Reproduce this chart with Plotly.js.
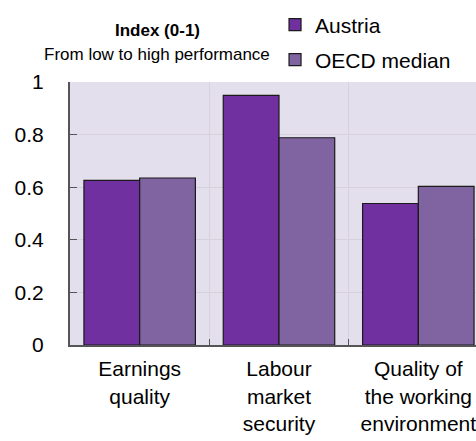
<!DOCTYPE html>
<html><head><meta charset="utf-8">
<script src="https://cdn.plot.ly/plotly-3.0.1.min.js"></script>
<style>html,body{margin:0;padding:0;background:#fff}#chart{width:476px;height:441px}</style>
</head><body><div id="chart"></div>
<script>
const categories = ["Earnings<br>quality", "Labour<br>market<br>security", "Quality of<br>the working<br>environment"];
const austria = [0.626, 0.949, 0.538];
const oecdMedian = [0.635, 0.788, 0.603];
const yTicks = [0, 0.2, 0.4, 0.6, 0.8, 1];
const yTickText = ["0", "0.2", "0.4", "0.6", "0.8", "1"];

const font = "Liberation Sans, Arial, sans-serif";
const traces = [
  {type: "bar", name: "Austria", x: categories, y: austria, legend: "legend",
   marker: {color: "#7030A0", line: {color: "#1a1a1a", width: 1.2}}},
  {type: "bar", name: "OECD median", x: categories, y: oecdMedian, legend: "legend2",
   marker: {color: "#8064A2", line: {color: "#1a1a1a", width: 1.2}}}
];
const legFont = {family: font, size: 21, color: "#000"};
const layout = {
  width: 476, height: 441,
  margin: {l: 70, r: 0, t: 82, b: 96, pad: 0},
  paper_bgcolor: "#ffffff", plot_bgcolor: "#E4DFEC",
  barmode: "group", bargap: 0.2, bargroupgap: 0,
  font: {family: font, size: 21, color: "#000"},
  showlegend: true,
  legend: {x: 0.505, y: (345-25)/263, xanchor: "left", yanchor: "middle", bgcolor: "rgba(0,0,0,0)",
           font: legFont, itemwidth: 30, borderwidth: 0},
  legend2: {x: 0.505, y: (345-60)/263, xanchor: "left", yanchor: "middle", bgcolor: "rgba(0,0,0,0)",
           font: legFont, itemwidth: 30, borderwidth: 0},
  xaxis: {type: "category", range: [-0.5, 2.414], tickson: "boundaries",
          showgrid: true, gridcolor: "#D6D1DD", gridwidth: 1,
          ticks: "inside", ticklen: 6, tickcolor: "#555",
          showline: true, linecolor: "#555", linewidth: 2,
          tickfont: {family: font, size: 21}, ticklabelstandoff: 4, fixedrange: true},
  yaxis: {range: [0, 1], tickvals: yTicks, ticktext: yTickText,
          showgrid: true, gridcolor: "#D6D1DD", gridwidth: 1, zeroline: false,
          ticks: "inside", ticklen: 7, tickcolor: "#555",
          showline: true, linecolor: "#555", linewidth: 2,
          tickfont: {family: font, size: 21}, ticklabelstandoff: 20, fixedrange: true},
  annotations: [
    {xref: "paper", yref: "paper", x: (157-70)/406, y: (345-30)/263, xanchor: "center", yanchor: "middle",
     text: "<b>Index (0-1)</b>", showarrow: false, font: {family: font, size: 17}},
    {xref: "paper", yref: "paper", x: (157-70)/406, y: (345-55)/263, xanchor: "center", yanchor: "middle",
     text: "From low to high performance", showarrow: false, font: {family: font, size: 17}}
  ]
};
Plotly.newPlot("chart", traces, layout, {displayModeBar: false, staticPlot: true});
</script></body></html>
